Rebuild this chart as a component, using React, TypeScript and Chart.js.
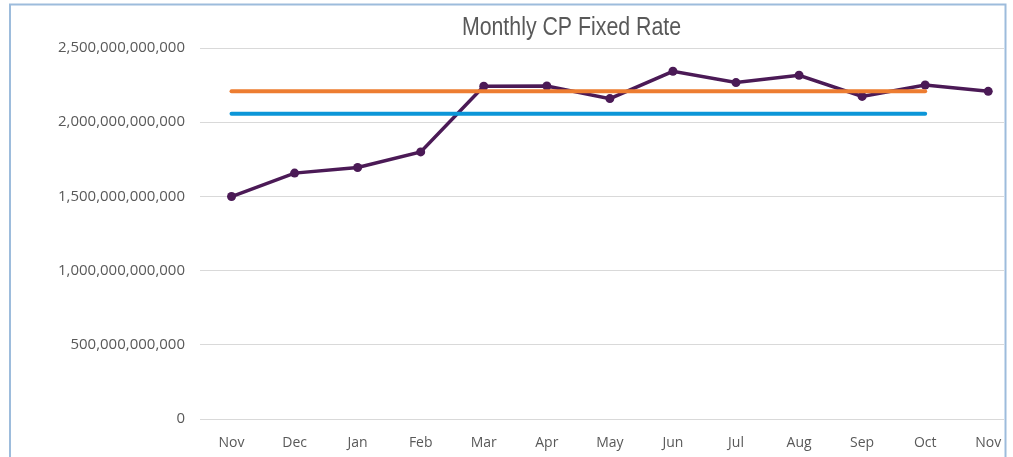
import React, { useEffect, useRef } from "react";
import { Chart, registerables } from "chart.js";

Chart.register(...registerables);

const titleText = "Monthly CP Fixed Rate";
const categories = ["Nov", "Dec", "Jan", "Feb", "Mar", "Apr", "May", "Jun", "Jul", "Aug", "Sep", "Oct", "Nov"];
const monthlyValues = [
  1.499e12, 1.657e12, 1.695e12, 1.8e12, 2.242e12, 2.244e12, 2.159e12, 2.343e12, 2.267e12, 2.316e12, 2.174e12,
  2.251e12, 2.208e12,
];
const orangeLevel = 2.208e12;
const blueLevel = 2.057e12;
const levelStartIndex = 0;
const levelEndIndex = 11;
const yTicks = [0, 5e11, 1e12, 1.5e12, 2e12, 2.5e12];

const decorPlugin = {
  id: "decor",
  afterDraw(chart: any) {
    const ctx = chart.ctx;
    ctx.save();
    ctx.strokeStyle = "#9dbcdc";
    ctx.lineWidth = 2;
    ctx.strokeRect(10, 4.5, 995.5, 520);
    ctx.restore();
    ctx.save();
    ctx.fillStyle = "#595959";
    ctx.font = "26px 'Liberation Sans', Arial, sans-serif";
    ctx.textAlign = "center";
    ctx.textBaseline = "alphabetic";
    ctx.translate(571.5, 34.5);
    ctx.scale(0.82, 1);
    ctx.fillText(titleText, 0, 0);
    ctx.restore();
  },
};

export default function App() {
  const ref = useRef<HTMLCanvasElement>(null);
  useEffect(() => {
    if (!ref.current) return;
    const chart = new Chart(ref.current, {
      type: "line",
      data: {
        datasets: [
          {
            label: "Monthly",
            data: monthlyValues.map((v, i) => ({ x: i, y: v })),
            borderColor: "#4B1A56",
            backgroundColor: "#4B1A56",
            borderWidth: 3.5,
            pointRadius: 4.5,
            pointBorderWidth: 0,
            order: 2,
          },
          {
            label: "Orange",
            data: [
              { x: levelStartIndex, y: orangeLevel },
              { x: levelEndIndex, y: orangeLevel },
            ],
            borderColor: "#ED7D31",
            borderWidth: 4,
            borderCapStyle: "round",
            pointRadius: 0,
            order: 0,
          },
          {
            label: "Blue",
            data: [
              { x: levelStartIndex, y: blueLevel },
              { x: levelEndIndex, y: blueLevel },
            ],
            borderColor: "#0C96D8",
            borderWidth: 4,
            borderCapStyle: "round",
            pointRadius: 0,
            order: 1,
          },
        ],
      },
      options: {
        animation: false,
        responsive: false,
        maintainAspectRatio: false,
        layout: { padding: { left: 0, right: 9, top: 48, bottom: 0 } },
        plugins: {
          legend: { display: false },
          tooltip: { enabled: false },
          title: { display: false },
        },
        scales: {
          x: {
            type: "linear",
            min: -0.5,
            max: 12.25,
            grid: { display: false },
            border: { display: false },
            afterBuildTicks(scale: any) {
              scale.ticks = categories.map((_, i) => ({ value: i }));
            },
            afterFit(scale: any) {
              scale.height = 38;
            },
            ticks: {
              autoSkip: false,
              maxRotation: 0,
              padding: 8,
              color: "#595959",
              font: { family: "Open Sans", size: 14 },
              callback: (v: any) => categories[v as number] ?? "",
            },
          },
          y: {
            min: 0,
            max: 2.5e12,
            grid: { color: "#d9d9d9", lineWidth: 1, drawTicks: false },
            border: { display: false },
            afterBuildTicks(scale: any) {
              scale.ticks = yTicks.map((v) => ({ value: v }));
            },
            afterFit(scale: any) {
              scale.width = 200;
            },
            ticks: {
              padding: 15,
              color: "#595959",
              font: { family: "Open Sans", size: 15 },
              callback: (v: any) => Number(v).toLocaleString("en-US"),
            },
          },
        },
      },
      plugins: [decorPlugin],
    });
    return () => chart.destroy();
  }, []);
  return (
    <div style={{ position: "fixed", left: 0, top: 0, width: 1013, height: 457, background: "#fff" }}>
      <canvas ref={ref} width={1013} height={457} style={{ width: 1013, height: 457 }} />
    </div>
  );
}
